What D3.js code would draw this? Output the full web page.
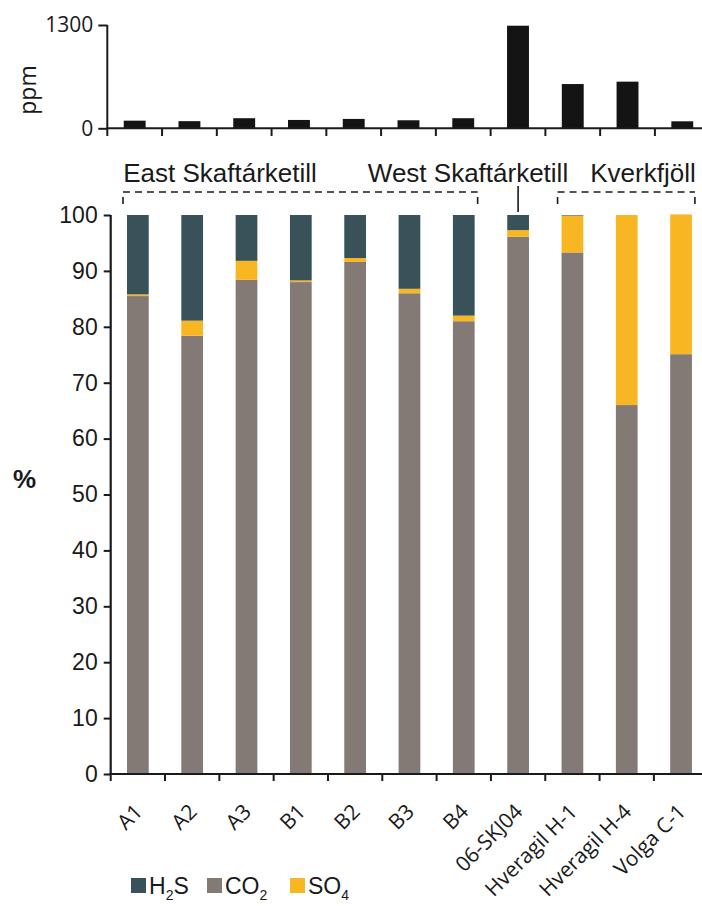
<!DOCTYPE html>
<html><head><meta charset="utf-8">
<script src="https://cdn.jsdelivr.net/npm/d3@7"></script>
<style>
html,body{margin:0;padding:0;background:#fff;}
svg{display:block;}
</style></head><body>
<svg id="c" width="702" height="906"></svg>
<script>
const samples = ["A1","A2","A3","B1","B2","B3","B4","06-SKJ04","Hveragil H-1","Hveragil H-4","Volga C-1"];
const ppm = [96, 90, 127, 105, 118, 101, 127, 1291, 557, 587, 88];
const co2 = [85.5, 78.4, 88.4, 88.0, 91.6, 86.0, 81.0, 96.1, 93.3, 66.0, 75.1];
const so4 = [0.3, 2.7, 3.4, 0.3, 0.7, 0.8, 1.0, 1.2, 6.6, 34.0, 25.0];
const h2s = [14.2, 18.9, 8.2, 11.7, 7.7, 13.2, 18.0, 2.7, 0.1, 0.0, 0.0];
const seriesKeys = ["co2","so4","h2s"];
const seriesNames = {h2s:["H","2","S"], co2:["CO","2",""], so4:["SO","4",""]};
const colors = {h2s:"#395259", co2:"#847a75", so4:"#f8b722"};
const pctTicks = [0,10,20,30,40,50,60,70,80,90,100];
const ppmTicks = [0,1300];
const groups = [
  {name:"East Skaftárketill", from:"A1", to:"B4", kind:"bracket"},
  {name:"West Skaftárketill", from:"06-SKJ04", to:"06-SKJ04", kind:"line"},
  {name:"Kverkfjöll", from:"Hveragil H-1", to:"Volga C-1", kind:"bracket"}
];

const SANS = "'Liberation Sans', Arial, sans-serif";
const OPEN = "'Open Sans', sans-serif";
const INK = "#1a1a1a";

const rows = samples.map((s,i)=>({sample:s, co2:co2[i], so4:so4[i], h2s:h2s[i]}));
const svg = d3.select("#c");

// ---------- main chart ----------
const x = d3.scaleBand().domain(samples).range([110.7, 110.7+11*54.32]).paddingInner(0.6).paddingOuter(0.3);
const y = d3.scaleLinear().domain([0,100]).range([774,215]);

const stack = d3.stack().keys(seriesKeys)(rows);
svg.append("g").selectAll("g").data(stack).join("g")
  .attr("fill", d=>colors[d.key])
  .selectAll("rect").data(d=>d).join("rect")
  .attr("x", d=>x(d.data.sample))
  .attr("width", x.bandwidth())
  .attr("y", d=>y(d[1]))
  .attr("height", d=>Math.max(0, y(d[0])-y(d[1])));

const yAx = svg.append("g").attr("transform","translate(110.7,0)")
  .call(d3.axisLeft(y).tickValues(pctTicks).tickSize(7).tickPadding(6));
yAx.select(".domain").attr("stroke",INK).attr("stroke-width",2.2).attr("d","M0,774V215");
yAx.selectAll(".tick line").attr("stroke",INK).attr("stroke-width",2);
yAx.selectAll(".tick text").style("font-size","23px").style("font-family",SANS).attr("fill",INK);

// x axis with ticks at band boundaries
const xAxG = svg.append("g");
xAxG.append("line").attr("x1",109.6).attr("x2",702).attr("y1",774).attr("y2",774)
  .attr("stroke",INK).attr("stroke-width",2.2);
const step = x.step();
const bounds = samples.map(s=>x(s) - (step - x.bandwidth())/2);
xAxG.selectAll("line.t").data(bounds).join("line").attr("class","t")
  .attr("x1",d=>d).attr("x2",d=>d).attr("y1",774).attr("y2",781)
  .attr("stroke",INK).attr("stroke-width",2);
xAxG.selectAll("text").data(samples).join("text")
  .attr("text-anchor","end")
  .style("font-family",OPEN)
  .style("font-size","21px")
  .attr("fill",INK)
  .attr("transform", d=>`translate(${x(d)+x.bandwidth()/2+6},813) rotate(-45)`)
  .text(d=>d);

// % label
svg.append("text").attr("x",13).attr("y",488).style("font-size","26px").style("font-family",SANS)
  .style("font-weight","bold").attr("fill",INK).text("%");

// ---------- top ppm chart ----------
const xt = d3.scaleBand().domain(samples).range([107.3, 107.3+11*54.76]).paddingInner(0.6).paddingOuter(0.3);
const yt = d3.scaleLinear().domain([0,1300]).range([128.3,25]);
svg.append("g").selectAll("rect").data(samples).join("rect")
  .attr("x", d=>xt(d)).attr("width", xt.bandwidth())
  .attr("y", (d,i)=>yt(ppm[i])).attr("height",(d,i)=>yt(0)-yt(ppm[i]))
  .attr("fill","#141414");
const ytAx = svg.append("g").attr("transform","translate(107.3,0)")
  .call(d3.axisLeft(yt).tickValues(ppmTicks).tickFormat(d3.format("d")).tickSize(9).tickPadding(5));
ytAx.select(".domain").attr("stroke",INK).attr("stroke-width",2).attr("d","M0,128.3V25");
ytAx.selectAll(".tick line").attr("stroke",INK).attr("stroke-width",2);
ytAx.selectAll(".tick text").style("font-size","21px").style("font-family",OPEN).attr("fill",INK);
svg.append("line").attr("x1",106.3).attr("x2",702).attr("y1",128.3).attr("y2",128.3).attr("stroke",INK).attr("stroke-width",2);
const stepT = xt.step();
svg.append("g").selectAll("line").data(samples).join("line")
  .attr("x1",d=>xt(d)-(stepT-xt.bandwidth())/2).attr("x2",d=>xt(d)-(stepT-xt.bandwidth())/2)
  .attr("y1",128.3).attr("y2",136).attr("stroke",INK).attr("stroke-width",2);
svg.append("text").attr("transform","translate(36,90) rotate(-90)").attr("text-anchor","middle")
  .style("font-family",OPEN).style("font-size","23px").attr("fill",INK).text("ppm");

// ---------- group brackets ----------
const gb = svg.append("g");
const by = 192;
groups.forEach(g=>{
  const x0 = x(g.from) - 4, x1 = x(g.to) + x.bandwidth() + 3;
  const cx = (x(g.from) + x(g.to) + x.bandwidth())/2;
  if (g.kind==="bracket") {
    gb.append("line").attr("x1",x0).attr("x2",x1).attr("y1",by).attr("y2",by)
      .attr("stroke",INK).attr("stroke-width",1.6).attr("stroke-dasharray","7,5");
    [x0,x1].forEach(xx=>gb.append("line").attr("x1",xx).attr("x2",xx).attr("y1",by+5).attr("y2",by+12)
      .attr("stroke",INK).attr("stroke-width",1.6));
  } else {
    gb.append("line").attr("x1",cx).attr("x2",cx).attr("y1",186).attr("y2",212)
      .attr("stroke",INK).attr("stroke-width",1.6);
  }
});
const labelX = [220, 468, 643];
groups.forEach((g,i)=>{
  svg.append("text").attr("x",labelX[i]).attr("y",182).attr("text-anchor","middle")
    .style("font-size","26px").style("font-family",SANS).attr("fill",INK).text(g.name);
});

// ---------- legend ----------
const legendKeys = ["h2s","co2","so4"];
const legX = [131, 207, 290];
const leg = svg.append("g");
legendKeys.forEach((k,i)=>{
  leg.append("rect").attr("x",legX[i]).attr("y",878).attr("width",15).attr("height",15).attr("fill",colors[k]);
  const t = leg.append("text").attr("x",legX[i]+18).attr("y",894).style("font-size","23px")
    .style("font-family",SANS).attr("fill",INK);
  const n = seriesNames[k];
  t.append("tspan").text(n[0]);
  t.append("tspan").style("font-size","14px").attr("dy",6).text(n[1]);
  if (n[2]) t.append("tspan").attr("dy",-6).text(n[2]);
});
</script>
</body></html>
